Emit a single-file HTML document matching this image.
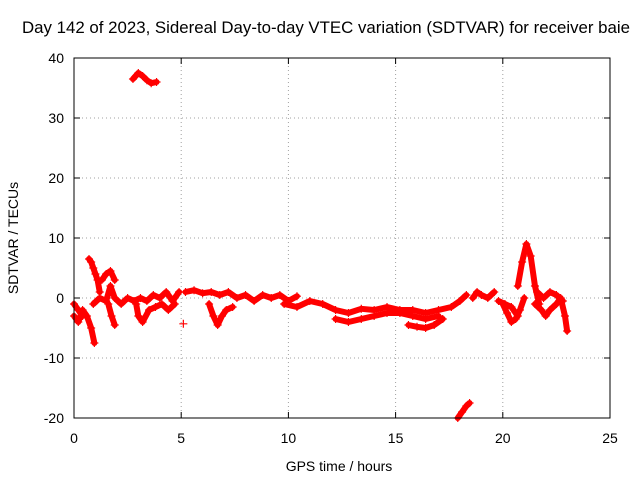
<!DOCTYPE html>
<html><head><meta charset="utf-8"><style>
body{margin:0;background:#fff}
svg{display:block;font-family:"Liberation Sans",sans-serif}
</style></head><body>
<svg id="c" width="640" height="480" viewBox="0 0 640 480">
<rect width="640" height="480" fill="#fff"/>
<text x="326" y="33" text-anchor="middle" font-size="16.5" textLength="608" lengthAdjust="spacingAndGlyphs">Day 142 of 2023, Sidereal Day-to-day VTEC variation (SDTVAR) for receiver baie</text>
<g id="grid"></g>
<g id="marks"></g>
<rect x="74" y="58" width="536" height="360" fill="none" stroke="#000" stroke-width="1"/>
<text x="339" y="471" text-anchor="middle" font-size="14">GPS time / hours</text>
<text transform="translate(18,238) rotate(-90)" text-anchor="middle" font-size="14">SDTVAR / TECUs</text>
</svg>
<script>
const xTicks=[0,5,10,15,20,25];
const yTicks=[-20,-10,0,10,20,30,40];
const segA=[[0,-3],[0.2,-4],[0.4,-2],[0.6,-3],[0.8,-5],[0.95,-7.5]];
const segA2=[[0,-1],[0.2,-2],[0.4,-3]];
const segB=[[0.7,6.5],[0.8,6],[0.9,5],[1.0,4],[1.1,3],[1.2,1]];
const segC=[[0.9,-1],[1.2,0],[1.5,-0.5],[1.7,2],[1.9,0],[2.2,-1],[2.5,0],[2.8,-0.5],[3.1,0],[3.4,-0.5],[3.7,0.5],[4.0,0],[4.3,1],[4.6,-0.5],[4.9,1]];
const segC2=[[1.3,3],[1.5,4],[1.7,4.5],[1.9,3]];
const segD=[[1.6,-1],[1.75,-3],[1.9,-4.5]];
const segE=[[2.9,-1],[3.0,-3],[3.2,-4],[3.5,-2],[3.8,-1.5],[4.1,-1],[4.4,-2],[4.7,-1]];
const segF=[[2.75,36.5],[3.0,37.5],[3.2,37],[3.4,36.3],[3.6,35.8],[3.85,36]];
const segG=[[5.1,-4.3]];
const segH=[[5.2,1],[5.6,1.3],[6,0.8],[6.4,1],[6.8,0.5],[7.2,1],[7.6,0],[8,0.5],[8.4,-0.5],[8.8,0.5],[9.2,0],[9.6,0.5],[10,-0.5],[10.4,0.3]];
const segH2=[[6.3,-1],[6.5,-3],[6.7,-4.5],[6.9,-3],[7.1,-2],[7.4,-1.5]];
const segI=[[9.8,-1],[10.4,-1.5],[11,-0.5],[11.6,-1],[12.2,-2],[12.8,-2.5],[13.4,-1.8],[14,-2],[14.6,-1.5],[15.2,-2],[15.8,-2],[16.4,-2.5],[17,-2],[17.6,-1.5],[18,-0.5],[18.3,0.5]];
const segI2=[[12.2,-3.5],[12.8,-4],[13.4,-3.5],[14,-3],[14.6,-2.5],[15.2,-2.5],[15.8,-3],[16.4,-3.5],[17,-3]];
const segI3=[[15.6,-4.5],[16,-4.8],[16.4,-5],[16.8,-4.5],[17.2,-3.5]];
const segJ=[[17.9,-20],[18.1,-19],[18.3,-18],[18.45,-17.5]];
const segK=[[18.6,0],[18.8,1],[19,0.5],[19.3,0],[19.6,1]];
const segL=[[20,-1],[20.2,-2.5],[20.4,-4],[20.6,-3.5],[20.8,-2],[21,0]];
const segL2=[[19.8,-0.5],[20.1,-1],[20.4,-1.5],[20.7,-3]];
const segM=[[20.7,2],[20.9,6],[21.1,9],[21.3,7],[21.5,2],[21.7,-1]];
const segN=[[21.5,-1],[21.8,-2],[22,-3],[22.2,-2],[22.5,-1],[22.7,0],[22.9,-3],[23,-5.5]];
const segN2=[[21.6,1],[21.9,0],[22.2,1],[22.5,0.5],[22.8,-0.5]];
const segments=[segA,segA2,segB,segC,segC2,segD,segE,segF,segG,segH,segH2,segI,segI2,segI3,segJ,segK,segL,segL2,segM,segN,segN2];

const X0=74,X1=610,Y0=418,Y1=58;
const sx=t=>X0+(t-0)/(25-0)*(X1-X0);
const sy=v=>Y0-(v+20)/(60)*(Y0-Y1);
const NS="http://www.w3.org/2000/svg";
const grid=document.getElementById('grid'),marks=document.getElementById('marks');
function mk(tag,attrs,parent){const e=document.createElementNS(NS,tag);for(const k in attrs)e.setAttribute(k,attrs[k]);parent.appendChild(e);return e;}
xTicks.forEach(t=>{
  const x=sx(t);
  if(t>0&&t<25){const g=mk('line',{x1:x,x2:x,y1:Y1,y2:Y0,stroke:'#a0a0a0','stroke-dasharray':'1,3'},grid);
  
  }
  mk('line',{x1:x,x2:x,y1:Y0,y2:Y0-6,stroke:'#000'},grid);
  mk('line',{x1:x,x2:x,y1:Y1,y2:Y1+6,stroke:'#000'},grid);
  const l=mk('text',{x:x,y:443,'text-anchor':'middle','font-size':14},grid);l.textContent=t;
  
  
});
yTicks.forEach(v=>{
  const y=sy(v);
  if(v>-20&&v<40){const g=mk('line',{x1:X0,x2:X1,y1:y,y2:y,stroke:'#a0a0a0','stroke-dasharray':'1,3'},grid);
  
  }
  mk('line',{x1:X0,x2:X0+6,y1:y,y2:y,stroke:'#000'},grid);
  mk('line',{x1:X1,x2:X1-6,y1:y,y2:y,stroke:'#000'},grid);
  const l=mk('text',{x:64,y:y+5,'text-anchor':'end','font-size':14},grid);l.textContent=v;
  
  
});
segments.forEach(seg=>{
  const pts=seg.map(p=>sx(p[0])+','+sy(p[1])).join(' ');
  const pl=mk('polyline',{points:pts,fill:'none',stroke:'#f00','stroke-width':6,'stroke-linejoin':'round','stroke-linecap':'round'},marks);
  
  
  seg.forEach(p=>{
    const x=sx(p[0]),y=sy(p[1]);
    const m=mk('path',{d:`M${x-4},${y}H${x+4}M${x},${y-4}V${y+4}`,stroke:'#f00','stroke-width':1.2},marks);
    
    
  });
});
</script>
</body></html>
